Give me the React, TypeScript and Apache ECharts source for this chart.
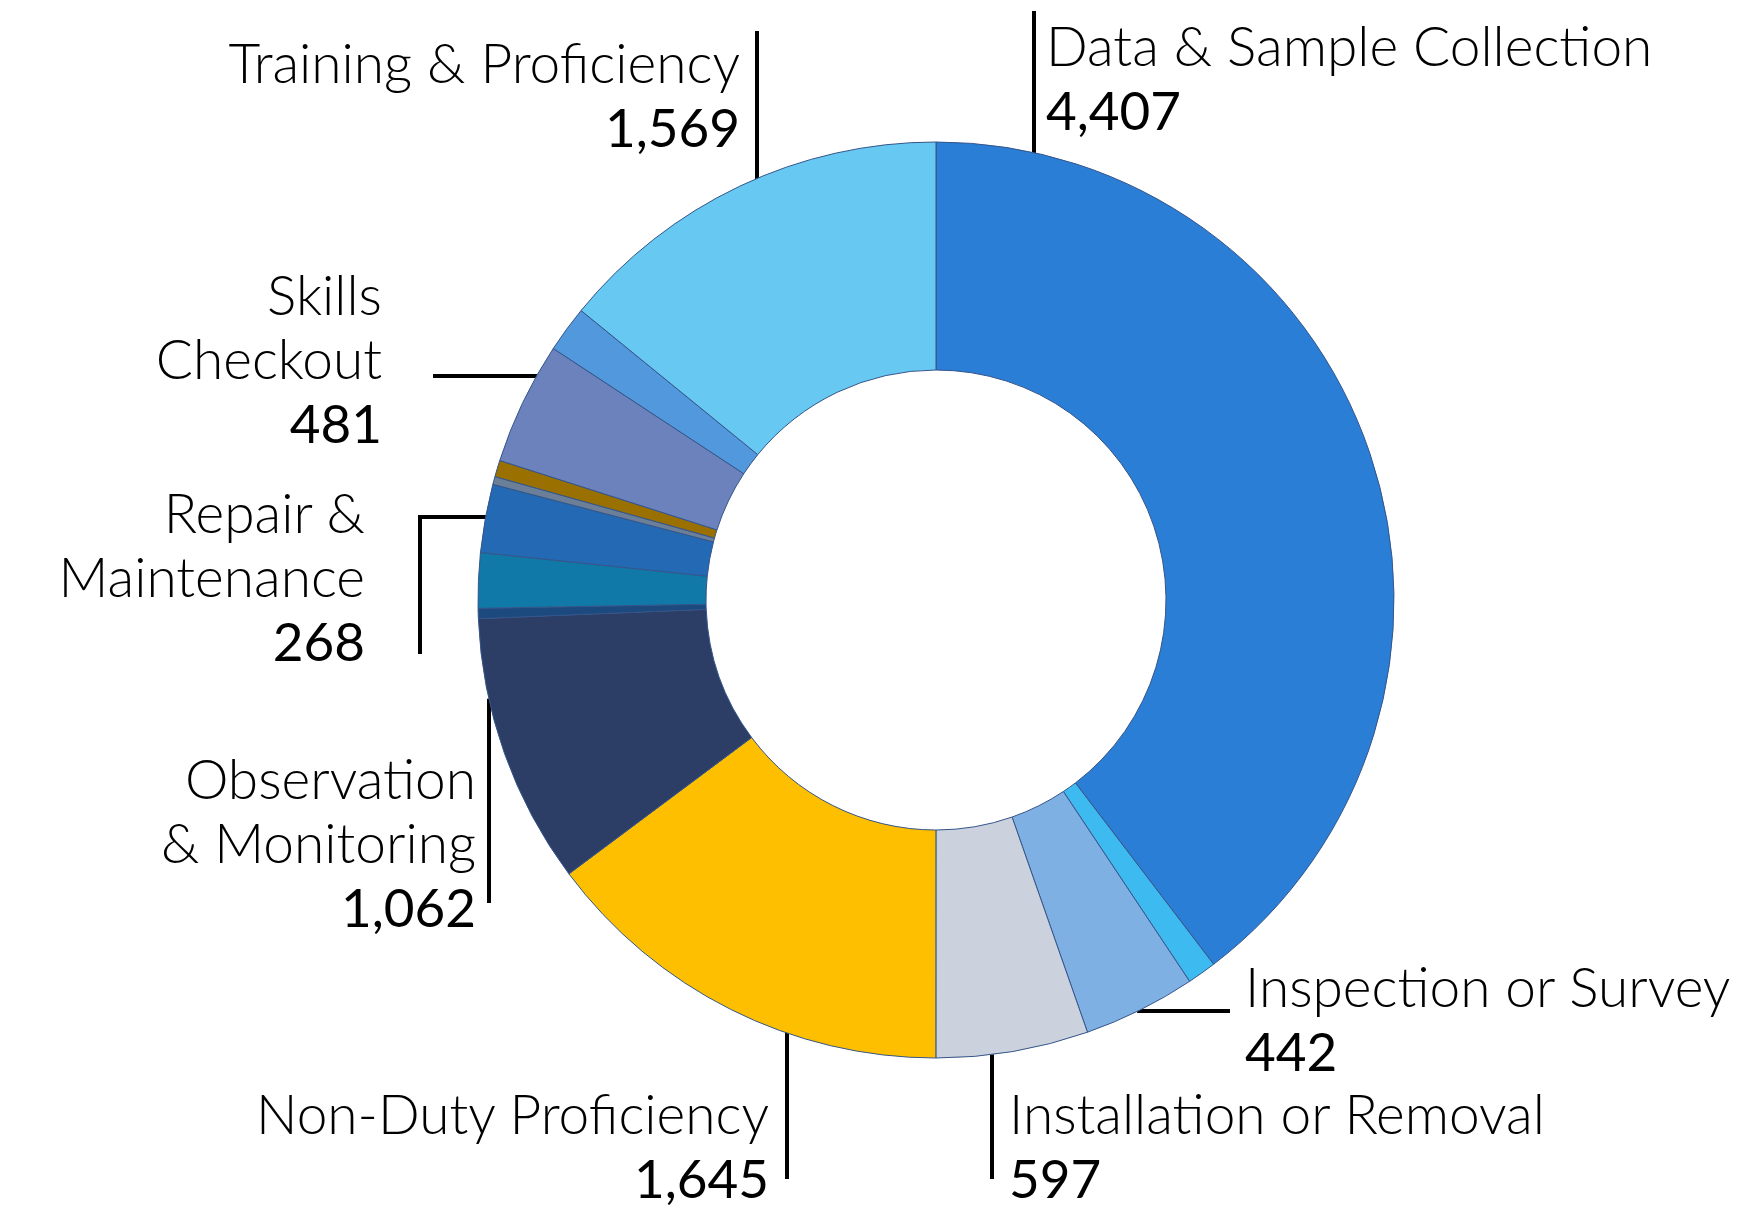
import React, { useEffect, useRef } from "react";
import * as echarts from "echarts";

// ---- Data (clockwise from 12 o'clock) ----
const categories = [
  "Data & Sample Collection",
  "Other A",
  "Inspection or Survey",
  "Installation or Removal",
  "Non-Duty Proficiency",
  "Observation & Monitoring",
  "Other B",
  "Other C",
  "Repair & Maintenance",
  "Other D",
  "Other E",
  "Skills Checkout",
  "Other F",
  "Training & Proficiency",
];
const values = [4407, 114, 442, 597, 1645, 1062, 40, 216, 268, 31, 65, 481, 182, 1569];
// Displayed label lines (null = slice not labelled)
const labelTexts: (string[] | null)[] = [
  ["Data & Sample Collection"],
  null,
  ["Inspection or Survey"],
  ["Installation or Removal"],
  ["Non-Duty Proficiency"],
  ["Observation", "& Monitoring"],
  null,
  null,
  ["Repair &", "Maintenance"],
  null,
  null,
  ["Skills", "Checkout"],
  null,
  ["Training & Proficiency"],
];
const colors = [
  "#2B7ED6", "#3DBAEF", "#7FB0E4", "#CBD2DD", "#FDBF00", "#2D3E66", "#1D4A7E",
  "#1079A7", "#2369B3", "#6B7F99", "#9A7000", "#6C82BD", "#5298DC", "#67C8F2",
];

// ---- Layout (pixels) ----
const CX = 936;
const CY = 600;
const R_IN = 230;
const R_OUT = 458;
const LINE_H = 64;

type Placement = {
  align: "left" | "right";
  x: number;
  firstCenter: number;
  line:
    | { kind: "v"; x: number; toY: number }
    | { kind: "h"; y: number; toX: number }
    | { kind: "hv"; y: number; cornerX: number; toY: number };
};

const placements: Record<number, Placement> = {
  0: { align: "left", x: 1046, firstCenter: 45, line: { kind: "v", x: 1034, toY: 11 } },
  2: { align: "left", x: 1245, firstCenter: 986, line: { kind: "h", y: 1011, toX: 1230 } },
  3: { align: "left", x: 1009, firstCenter: 1113, line: { kind: "v", x: 992, toY: 1179 } },
  4: { align: "right", x: 769, firstCenter: 1113, line: { kind: "v", x: 787, toY: 1179 } },
  5: { align: "right", x: 476, firstCenter: 778, line: { kind: "v", x: 489, toY: 903 } },
  8: { align: "right", x: 365, firstCenter: 512, line: { kind: "hv", y: 517, cornerX: 420, toY: 654 } },
  11: { align: "right", x: 382, firstCenter: 294, line: { kind: "h", y: 376, toX: 433 } },
  13: { align: "right", x: 740, firstCenter: 62, line: { kind: "v", x: 757, toY: 31 } },
};

function edgeY(x: number, below: boolean) {
  const dx = x - CX;
  const dy = Math.sqrt(Math.max(0, R_OUT * R_OUT - dx * dx));
  return below ? CY + dy - 1 : CY - dy + 1;
}
function edgeX(y: number, right: boolean) {
  const dy = y - CY;
  const dx = Math.sqrt(Math.max(0, R_OUT * R_OUT - dy * dy));
  return right ? CX + dx - 1 : CX - dx + 1;
}

export default function App() {
  const ref = useRef<HTMLDivElement>(null);

  useEffect(() => {
    if (!ref.current) return;
    const chart = echarts.init(ref.current, undefined, { renderer: "svg" });

    const data = categories.map((name, i) => {
      const lines = labelTexts[i];
      const p = placements[i];
      return {
        name,
        value: values[i],
        itemStyle: { color: colors[i] },
        label: lines
          ? {
              show: true,
              align: p ? p.align : "left",
              formatter: () =>
                lines.map((l) => `{n|${l}}`).join("\n") +
                `\n{v|${values[i].toLocaleString("en-US")}}`,
            }
          : { show: false },
        labelLine: { show: !!lines },
      };
    });

    const option: any = {
      animation: false,
      backgroundColor: "#ffffff",
      series: [
        {
          type: "pie",
          center: [CX, CY],
          radius: [R_IN, R_OUT],
          startAngle: 90,
          clockwise: true,
          avoidLabelOverlap: false,
          emphasis: { disabled: true },
          itemStyle: { borderColor: "#35558a", borderWidth: 1 },
          label: {
            position: "outside",
            color: "#000",
            rich: {
              n: {
                fontFamily: "Lato",
                fontWeight: 300,
                fontSize: 55,
                lineHeight: LINE_H,
                color: "#000",
              },
              v: {
                fontFamily: "Lato",
                fontWeight: 400,
                fontSize: 53,
                lineHeight: LINE_H,
                color: "#000",
              },
            },
          },
          labelLine: {
            show: true,
            smooth: false,
            lineStyle: { color: "#000", width: 4 },
          },
          labelLayout: (params: any) => {
            const p = placements[params.dataIndex];
            if (!p) return {};
            let pts: number[][];
            const l = p.line;
            if (l.kind === "v") {
              const below = l.toY > CY;
              const sy = edgeY(l.x, below);
              pts = [
                [l.x, sy],
                [l.x, (sy + l.toY) / 2],
                [l.x, l.toY],
              ];
            } else if (l.kind === "h") {
              const right = l.toX > CX;
              const sx = edgeX(l.y, right);
              pts = [
                [sx, l.y],
                [(sx + l.toX) / 2, l.y],
                [l.toX, l.y],
              ];
            } else {
              const sx = edgeX(l.y, false);
              pts = [
                [sx, l.y],
                [l.cornerX, l.y],
                [l.cornerX, l.toY],
              ];
            }
            return {
              x: p.x,
              y: p.firstCenter - LINE_H / 2,
              align: p.align,
              verticalAlign: "top",
              labelLinePoints: pts,
            };
          },
          data,
        },
      ],
    };

    chart.setOption(option);
    return () => chart.dispose();
  }, []);

  return (
    <div
      ref={ref}
      style={{ position: "absolute", left: 0, top: 0, width: 1753, height: 1208, background: "#fff" }}
    />
  );
}
